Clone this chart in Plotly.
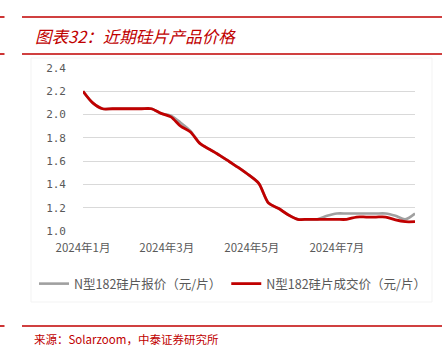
import plotly.graph_objects as go
import pandas as pd

# ---------------- data ----------------
dates = pd.date_range("2024-01-01", periods=35, freq="7D")
quote_price = [2.20, 2.10, 2.05, 2.05, 2.05, 2.05, 2.05, 2.05, 2.01, 1.99,
               1.93, 1.86, 1.75, 1.70, 1.65, 1.595, 1.54, 1.48, 1.41, 1.24,
               1.195, 1.14, 1.10, 1.10, 1.10, 1.13, 1.15, 1.15, 1.15, 1.15,
               1.15, 1.15, 1.13, 1.10, 1.15]
deal_price = [2.20, 2.10, 2.05, 2.05, 2.05, 2.05, 2.05, 2.05, 2.01, 1.98,
              1.90, 1.85, 1.75, 1.70, 1.65, 1.595, 1.54, 1.48, 1.41, 1.24,
              1.195, 1.14, 1.10, 1.10, 1.10, 1.10, 1.10, 1.10, 1.12, 1.12,
              1.12, 1.12, 1.095, 1.08, 1.08]
series_names = ["N型182硅片报价（元/片）", "N型182硅片成交价（元/片）"]
tick_dates = ["2024-01-01", "2024-03-01", "2024-05-01", "2024-07-01"]
tick_labels = ["2024年1月", "2024年3月", "2024年5月", "2024年7月"]
y_ticks = [1.0, 1.2, 1.4, 1.6, 1.8, 2.0, 2.2, 2.4]
title_text = "图表32：近期硅片产品价格"
source_text = "来源：Solarzoom，中泰证券研究所"

# ---------------- layout geometry ----------------
W, H = 448, 351
L, R, T, B = 83, 415, 68, 231  # plot area in pixels


def px(x):
    return (x - L) / (R - L)


def py(y):
    return (B - y) / (B - T)


RED = "#c00000"
GREY = "#a0a0a0"
CJK = "Noto Sans CJK SC"

fig = go.Figure()
fig.add_trace(go.Scatter(x=dates, y=quote_price, name=series_names[0], mode="lines",
                         line=dict(color=GREY, width=2.6, shape="spline", smoothing=0.8)))
fig.add_trace(go.Scatter(x=dates, y=deal_price, name=series_names[1], mode="lines",
                         line=dict(color=RED, width=2.8, shape="spline", smoothing=0.8)))

shapes = []
# header / footer red rules
for yline in (17, 54, 326):
    shapes.append(dict(type="line", xref="paper", yref="paper",
                       x0=px(22), x1=px(442), y0=py(yline), y1=py(yline),
                       line=dict(color=RED, width=1.6)))
    shapes.append(dict(type="line", xref="paper", yref="paper",
                       x0=px(0), x1=px(4.5), y0=py(yline), y1=py(yline),
                       line=dict(color=RED, width=1.6)))
# faint frame around chart
shapes.append(dict(type="rect", xref="paper", yref="paper",
                   x0=px(31), x1=px(432), y0=py(58), y1=py(302),
                   line=dict(color="#f3f3f3", width=1), layer="below"))

annotations = [
    dict(text=title_text, xref="paper", yref="paper", x=px(33), y=py(36),
         xanchor="left", yanchor="middle", showarrow=False,
         font=dict(family=CJK, size=16.5, color=RED, style="italic")),
    dict(text=source_text, xref="paper", yref="paper", x=px(32), y=py(339),
         xanchor="left", yanchor="middle", showarrow=False,
         font=dict(family=CJK, size=11.5, color=RED)),
]

fig.update_layout(
    width=W, height=H,
    margin=dict(l=L, r=W - R, t=T, b=H - B, pad=0),
    paper_bgcolor="white", plot_bgcolor="white",
    showlegend=True,
    legend=dict(orientation="h", x=px(34), y=py(284), xanchor="left", yanchor="middle",
                font=dict(family=CJK, size=12.5, color="#595959"),
                itemwidth=30, tracegroupgap=0, bgcolor="rgba(0,0,0,0)"),
    xaxis=dict(type="date", range=[dates[0], dates[-1]],
               tickvals=tick_dates, ticktext=tick_labels,
               showgrid=False, zeroline=False, showline=False, ticks="",
               ticklabelstandoff=8,
               tickfont=dict(family=CJK, size=11.5, color="#595959")),
    yaxis=dict(range=[1.0, 2.4], tickvals=y_ticks,
               ticktext=[f"{v:.1f}" for v in y_ticks],
               showgrid=True, gridcolor="#d9d9d9", gridwidth=1,
               zeroline=False, showline=False, ticks="",
               ticklabelstandoff=16,
               tickfont=dict(family="DejaVu Sans Mono", size=11, color="#595959")),
    shapes=shapes, annotations=annotations,
)

fig.write_html("out.html")
